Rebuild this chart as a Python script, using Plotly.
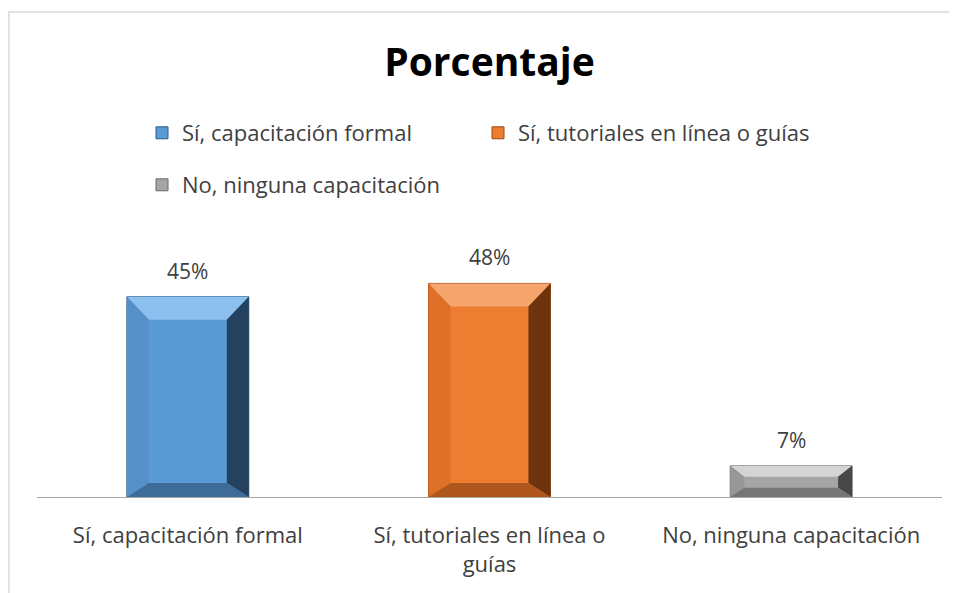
import plotly.graph_objects as go

# ---- data ----
categories = ["Sí, capacitación formal", "Sí, tutoriales en línea o guías", "No, ninguna capacitación"]
tick_labels = ["Sí, capacitación formal", "Sí, tutoriales en línea o<br>guías", "No, ninguna capacitación"]
values = [45, 48, 7]
value_labels = ["45%", "48%", "7%"]

# ---- style ----
FONT = "Open Sans"
face = ["#5B9BD5", "#ED7D31", "#A5A5A5"]
top_c = ["#8CC0EE", "#F6A56C", "#D4D4D4"]
left_c = ["#5590C9", "#DE7127", "#979797"]
right_c = ["#24425F", "#6E340E", "#474747"]
bot_c = ["#3E6C99", "#AE561B", "#767676"]
edge_c = ["#2F5B85", "#9A4A14", "#6B6B6B"]

OFF = 8  # page body margin
W, H = 957, 593
ML, MR, MT, MB = 37 - OFF, 15 + OFF, 230 - OFF, 96 + OFF
YMAX = 60
BAR_W = 0.404
PW = W - ML - MR
PH = H - MT - MB
px_x = PW / 3.0
px_y = PH / YMAX


def px_to_paper_x(sx):
    return (sx - OFF - ML) / PW


def px_to_paper_y(sy):
    return (H - MB - (sy - OFF)) / PH


fig = go.Figure()
for i, (cat, v) in enumerate(zip(categories, values)):
    fig.add_trace(go.Bar(
        x=[i], y=[v], name=cat, width=BAR_W,
        marker=dict(color=face[i], line=dict(color=edge_c[i], width=1)),
        legend="legend" if i < 2 else "legend2",
        hoverinfo="skip",
    ))

# bevel facets computed from the data values via axis units
shapes = []
for i, v in enumerate(values):
    hpx = v * px_y
    bt = min(23, hpx * 0.35)
    bb = min(14, hpx * 0.3)
    bs = min(22, max(bt, 14))
    dx = bs / px_x
    dyt = bt / px_y
    dyb = bb / px_y
    x0, x1 = i - BAR_W / 2, i + BAR_W / 2
    y0, y1 = 0, v
    ix0, ix1 = x0 + dx, x1 - dx
    iy0, iy1 = y0 + dyb, y1 - dyt
    polys = [
        ([(x0, y1), (x1, y1), (ix1, iy1), (ix0, iy1)], top_c[i]),
        ([(x0, y0), (x0, y1), (ix0, iy1), (ix0, iy0)], left_c[i]),
        ([(x1, y0), (x1, y1), (ix1, iy1), (ix1, iy0)], right_c[i]),
        ([(x0, y0), (x1, y0), (ix1, iy0), (ix0, iy0)], bot_c[i]),
    ]
    for pts, col in polys:
        path = "M " + " L ".join(f"{px},{py}" for px, py in pts) + " Z"
        shapes.append(dict(type="path", path=path, xref="x", yref="y",
                           fillcolor=col, line=dict(width=0), layer="above"))

# chart border
shapes.append(dict(type="rect", xref="paper", yref="paper",
                   x0=px_to_paper_x(9), x1=1.2,
                   y0=-1, y1=px_to_paper_y(12),
                   line=dict(color="#D9D9D9", width=1.5), fillcolor="rgba(0,0,0,0)",
                   layer="below"))

annotations = []
for i, (v, t) in enumerate(zip(values, value_labels)):
    annotations.append(dict(x=i, y=v, text=t, showarrow=False, xref="x", yref="y",
                            yanchor="bottom", yshift=10,
                            font=dict(family=FONT, size=21, color="#404040")))

fig.update_layout(
    width=W, height=H,
    margin=dict(l=ML, r=MR, t=MT, b=MB),
    paper_bgcolor="white", plot_bgcolor="white",
    title=dict(text="<b>Porcentaje</b>", x=0.5, xref="paper", y=1 - (62 - OFF) / H, yanchor="middle",
               font=dict(family=FONT, size=39, color="#000000")),
    font=dict(family=FONT, size=22, color="#404040"),
    showlegend=True,
    legend=dict(orientation="h", x=px_to_paper_x(142), xanchor="left",
                y=px_to_paper_y(133), yanchor="middle",
                entrywidth=291, entrywidthmode="pixels", itemwidth=30,
                font=dict(family=FONT, size=22, color="#404040"),
                bgcolor="rgba(0,0,0,0)"),
    legend2=dict(orientation="h", x=px_to_paper_x(142), xanchor="left",
                 y=px_to_paper_y(185), yanchor="middle", itemwidth=30,
                 font=dict(family=FONT, size=22, color="#404040"),
                 bgcolor="rgba(0,0,0,0)"),
    xaxis=dict(range=[-0.5, 2.5], tickvals=[0, 1, 2], ticktext=tick_labels,
               showline=True, linecolor="#A6A6A6", linewidth=1,
               showgrid=False, zeroline=False, ticks="", ticklabelstandoff=19,
               tickfont=dict(family=FONT, size=22, color="#404040"), fixedrange=True),
    yaxis=dict(range=[0, YMAX], visible=False, showgrid=False, zeroline=False),
    bargap=0.6,
    shapes=shapes,
    annotations=annotations,
)

fig.write_html("out.html")
